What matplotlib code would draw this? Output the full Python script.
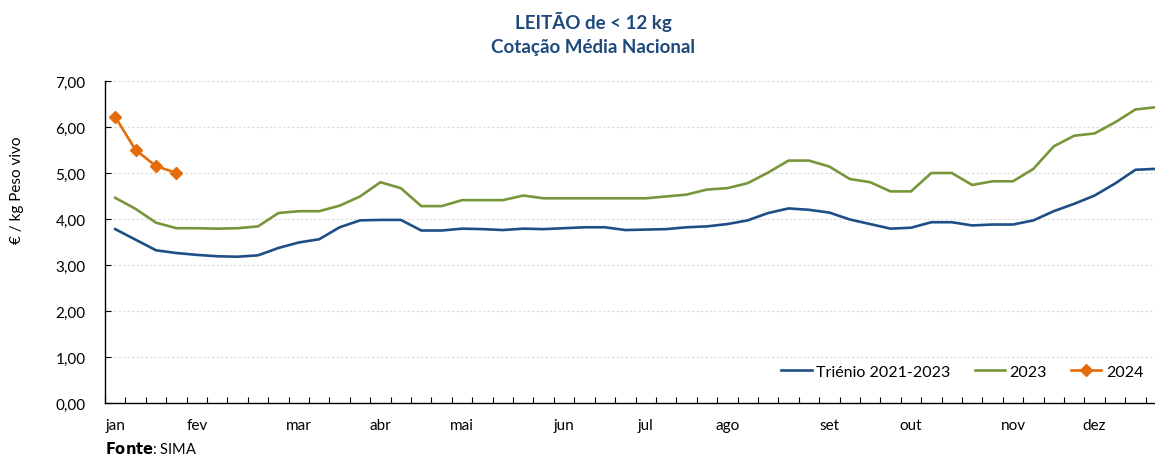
import matplotlib
matplotlib.use("Agg")
import matplotlib.pyplot as plt
import numpy as np

months = ["jan", "fev", "mar", "abr", "mai", "jun", "jul", "ago", "set", "out", "nov", "dez"]
month_week = [0, 4, 9, 13, 17, 22, 26, 30, 35, 39, 44, 48]

trienio = [3.78, 3.55, 3.32, 3.26, 3.22, 3.19, 3.18, 3.21, 3.37, 3.49,
           3.56, 3.82, 3.97, 3.98, 3.98, 3.75, 3.75, 3.79, 3.78, 3.76,
           3.79, 3.78, 3.80, 3.82, 3.82, 3.76, 3.77, 3.78, 3.82, 3.84,
           3.89, 3.97, 4.13, 4.23, 4.20, 4.14, 3.99, 3.89, 3.79, 3.81,
           3.93, 3.93, 3.86, 3.88, 3.88, 3.97, 4.17, 4.33, 4.51, 4.77,
           5.07, 5.09]
y2023 = [4.46, 4.22, 3.92, 3.80, 3.80, 3.79, 3.80, 3.84, 4.13, 4.17,
         4.17, 4.29, 4.49, 4.80, 4.67, 4.28, 4.28, 4.41, 4.41, 4.41,
         4.51, 4.45, 4.45, 4.45, 4.45, 4.45, 4.45, 4.49, 4.53, 4.64,
         4.67, 4.78, 5.01, 5.27, 5.27, 5.14, 4.87, 4.80, 4.60, 4.60,
         5.00, 5.00, 4.74, 4.82, 4.82, 5.09, 5.58, 5.81, 5.86, 6.10,
         6.38, 6.43]
y2024 = [6.22, 5.50, 5.15, 5.00]

W, H = 1155, 456
fig = plt.figure(figsize=(W / 100, H / 100), dpi=100)
plt.rcParams['font.family'] = ['Lato', 'DejaVu Sans']

left, right = 105, 1166
top, bottom = 82, 404
ax = fig.add_axes([left / W, (H - bottom) / H, (right - left) / W, (bottom - top) / H])

weeks = np.arange(len(trienio))
blue = "#1F4E86"
green = "#77963A"
orange = "#E46C0A"

ax.plot(weeks, trienio, color=blue, lw=1.9, label="Triénio 2021-2023", zorder=3)
ax.plot(weeks, y2023, color=green, lw=1.9, label="2023", zorder=3)
ax.plot(np.arange(len(y2024)), y2024, color=orange, lw=1.9, marker="D", ms=6,
        label="2024", zorder=4)

ax.set_xlim(-0.5, len(trienio) - 0.5)
ax.set_ylim(0, 7)
ax.set_yticks(np.arange(0, 7.01, 1))
ax.set_yticklabels([f"{v:.2f}".replace(".", ",") for v in np.arange(0, 7.01, 1)], fontsize=11)
ax.yaxis.grid(True, color="#D9D9D9", linestyle=(0, (2, 2)), lw=0.8)
ax.set_axisbelow(True)

ax.set_xticks(month_week)
ax.set_xticklabels(months, fontsize=11)
ax.set_xticks(np.arange(-0.5, len(trienio), 1), minor=True)
ax.tick_params(axis="x", which="major", length=0, pad=11)
ax.tick_params(axis="x", which="minor", length=4, direction="in", width=0.8)
ax.tick_params(axis="y", length=4, direction="in", width=0.8, pad=14)

for s in ["top", "right"]:
    ax.spines[s].set_visible(False)
for s in ["left", "bottom"]:
    ax.spines[s].set_linewidth(1.0)
    ax.spines[s].set_color("#000000")

fig.text(17 / W, (H - 190) / H, "€ / kg Peso vivo", rotation=90, ha="center", va="center", fontsize=11)

fig.text(593 / W, (H - 22) / H, "LEITÃO de < 12 kg", ha="center", va="center",
         fontsize=13.5, fontweight="bold", color="#1F497D")
fig.text(593 / W, (H - 48) / H, "Cotação Média Nacional", ha="center", va="center",
         fontsize=13.5, fontweight="bold", color="#1F497D")

fig.text(105 / W, (H - 449) / H, r"$\bf{Fonte}$: SIMA", ha="left", va="center", fontsize=10.5)

leg = ax.legend(loc="lower right", bbox_to_anchor=(1158 / W, (H - 394) / H),
                bbox_transform=fig.transFigure, ncol=3, frameon=False, fontsize=11.5,
                handlelength=1.9, columnspacing=1.5, handletextpad=0.3)

fig.savefig("out.png", dpi=100)
